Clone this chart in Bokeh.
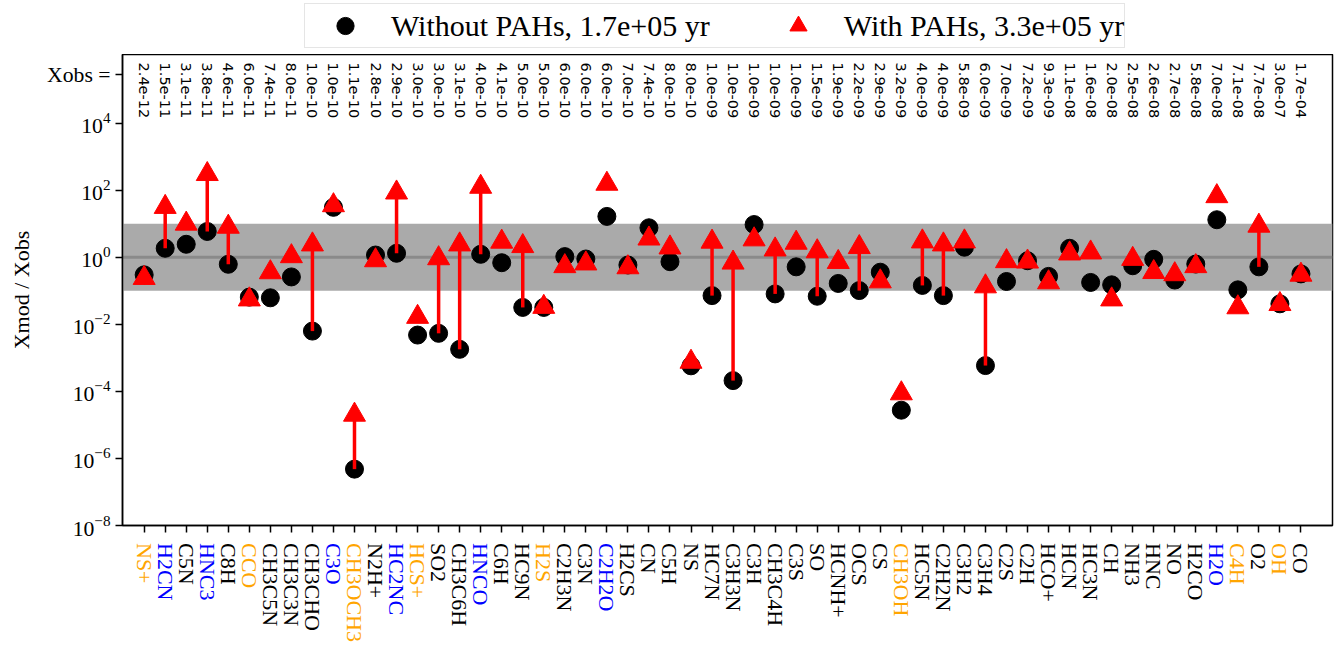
import numpy as np
from bokeh.plotting import figure
from bokeh.models import (ColumnDataSource, Range1d, FixedTicker, BoxAnnotation, Span,
                          Legend, LegendItem, CustomJSTickFormatter)
from bokeh.layouts import column
from bokeh.core.properties import value
from bokeh.embed import file_html
from bokeh.resources import INLINE

# ---------------- data ----------------
species = ["NS+", "H2CN", "C5N", "HNC3", "C8H", "CCO", "CH3C5N", "CH3C3N", "CH3CHO", "C3O",
           "CH3OCH3", "N2H+", "HC2NC", "HCS+", "SO2", "CH3C6H", "HNCO", "C6H", "HC9N", "H2S",
           "C2H3N", "C3N", "C2H2O", "H2CS", "CN", "C5H", "NS", "HC7N", "C3H3N", "C3H",
           "CH3C4H", "C3S", "SO", "HCNH+", "OCS", "CS", "CH3OH", "HC5N", "C2H2N", "C3H2",
           "C3H4", "C2S", "C2H", "HCO+", "HCN", "HC3N", "CH", "NH3", "HNC", "NO",
           "H2CO", "H2O", "C4H", "O2", "OH", "CO"]

x_obs_labels = ["2.4e-12", "1.5e-11", "3.1e-11", "3.8e-11", "4.6e-11", "6.0e-11", "7.4e-11", "8.0e-11",
                "1.0e-10", "1.0e-10", "1.1e-10", "2.8e-10", "2.9e-10", "3.0e-10", "3.0e-10", "3.1e-10",
                "4.0e-10", "4.1e-10", "5.0e-10", "5.0e-10", "6.0e-10", "6.0e-10", "6.0e-10", "7.0e-10",
                "7.4e-10", "8.0e-10", "8.0e-10", "1.0e-09", "1.0e-09", "1.0e-09", "1.0e-09", "1.0e-09",
                "1.5e-09", "1.9e-09", "2.2e-09", "2.9e-09", "3.2e-09", "4.0e-09", "4.0e-09", "5.8e-09",
                "6.0e-09", "7.0e-09", "7.2e-09", "9.3e-09", "1.1e-08", "1.6e-08", "2.0e-08", "2.5e-08",
                "2.6e-08", "2.7e-08", "5.8e-08", "7.0e-08", "7.1e-08", "7.7e-08", "3.0e-07", "1.7e-04"]

# X_mod / X_obs without PAHs (circles)
ratio_without = [0.30, 1.86, 2.45, 5.9, 0.62, 0.065, 0.062, 0.26, 0.0063, 31.0,
                 4.8e-7, 1.17, 1.32, 0.0048, 0.0054, 0.0018, 1.23, 0.69, 0.032, 0.032,
                 1.05, 0.89, 16.6, 0.59, 7.6, 0.74, 5.8e-4, 0.072, 2.1e-4, 9.5,
                 0.081, 0.52, 0.069, 0.166, 0.102, 0.36, 2.75e-5, 0.145, 0.072, 2.0,
                 5.9e-4, 0.19, 0.79, 0.27, 1.86, 0.178, 0.151, 0.56, 0.87, 0.21,
                 0.63, 13.2, 0.107, 0.52, 0.041, 0.32]

# X_mod / X_obs with PAHs (triangles)
ratio_with = [0.24, 31.6, 10.0, 302.0, 8.1, 0.055, 0.355, 1.07, 2.4, 35.5,
              2.0e-5, 0.81, 85.0, 0.0166, 0.93, 2.4, 126.0, 2.9, 2.14, 0.033,
              0.54, 0.65, 155.0, 0.50, 3.6, 1.95, 7.6e-4, 2.9, 0.69, 3.4,
              1.7, 2.7, 1.5, 0.72, 2.0, 0.19, 8.7e-5, 2.95, 2.4, 2.95,
              0.135, 0.76, 0.74, 0.178, 1.29, 1.38, 0.055, 0.89, 0.36, 0.31,
              0.54, 66.0, 0.032, 8.7, 0.040, 0.30]

orange_species = ["NS+", "CCO", "CH3OCH3", "HCS+", "H2S", "CH3OH", "C4H", "OH"]
blue_species = ["H2CN", "HNC3", "C3O", "HC2NC", "HNCO", "C2H2O", "H2O"]

legend_without = "Without PAHs, 1.7e+05 yr"
legend_with = "With PAHs, 3.3e+05 yr"

band_low, band_high = 0.1, 10.0
arrow_factor = 10.0
y_ticks = [1e-8, 1e-6, 1e-4, 1e-2, 1.0, 1e2, 1e4]

n = len(species)
assert len(x_obs_labels) == n and len(ratio_without) == n and len(ratio_with) == n

# ---------------- layout constants ----------------
W = 1339
LEG_H = 54
MAIN_H = 487
BOT_H = 648 - LEG_H - MAIN_H
FL, FR, FB = 122, 7, 16
SERIF = "Liberation Serif"
Y_MIN, Y_MAX = 1e-8, 10 ** 6.05
XOBS_TICK = 10 ** 5.45
XOBS_TEXT_Y = 10 ** 5.81
CIRCLE_SIZE = 18
TRI_SIZE = 22

idx = list(range(n))
src = ColumnDataSource(dict(x=idx, wo=ratio_without, wi=ratio_with))

ax, ay0, ay1 = [], [], []
for i in idx:
    if ratio_with[i] / ratio_without[i] > arrow_factor:
        ax.append(i)
        ay0.append(ratio_without[i])
        ay1.append(ratio_with[i])
arrow_src = ColumnDataSource(dict(x=ax, y0=ay0, y1=ay1))

# ---------------- legend strip ----------------
# legend proxies: the same series, drawn in a strip whose x range shows none of them
p0 = figure(width=W, height=LEG_H, x_range=Range1d(1000, 1001), y_range=Range1d(0, 1),
            output_backend="svg", toolbar_location=None,
            x_axis_location=None, y_axis_location=None,
            min_border_left=FL, min_border_right=FR, min_border_top=0, min_border_bottom=0)
p0.grid.visible = False
p0.outline_line_color = None
p0.background_fill_color = "white"
p0.border_fill_color = "white"
lg_circ = p0.scatter("x", "wo", source=src, marker="circle", size=CIRCLE_SIZE, color="black")
lg_tri = p0.scatter("x", "wi", source=src, marker="triangle", size=TRI_SIZE, color="red")
LEG_LEFT, LEG_BOTTOM_GAP = 304, 6
legend = Legend(items=[LegendItem(label=legend_without, renderers=[lg_circ]),
                       LegendItem(label=legend_with, renderers=[lg_tri])],
                orientation="horizontal", location=(LEG_LEFT - FL, LEG_BOTTOM_GAP),
                label_text_font=SERIF, label_text_font_size="30px", label_text_color="black",
                glyph_width=80, glyph_height=43, label_height=43, label_standoff=6, spacing=48,
                padding=0, margin=0, border_line_color="#cccccc", border_line_width=1.5,
                background_fill_color="white", background_fill_alpha=1.0)
p0.add_layout(legend)

# ---------------- main plot ----------------
xr = Range1d(-1.03, 56.5)
p = figure(width=W, height=MAIN_H, x_range=xr, y_range=Range1d(Y_MIN, Y_MAX),
           y_axis_type="log", output_backend="svg", toolbar_location=None,
           min_border_left=FL, min_border_right=FR, min_border_top=0, min_border_bottom=FB)
p.background_fill_color = "white"
p.border_fill_color = "white"
p.grid.visible = False
p.outline_line_color = "black"
p.outline_line_width = 1.5

p.add_layout(BoxAnnotation(bottom=band_low, top=band_high, fill_color="#aaaaaa", fill_alpha=1.0,
                           line_color=None, level="underlay"))
p.add_layout(Span(location=1.0, dimension="width", line_color="#8a8a8a", line_width=3,
                  level="underlay"))

p.scatter("x", "wo", source=src, marker="circle", size=CIRCLE_SIZE, color="black")
p.segment(x0="x", y0="y0", x1="x", y1="y1", source=arrow_src, line_color="red", line_width=3.5)
p.scatter("x", "wi", source=src, marker="triangle", size=TRI_SIZE, color="red")

p.text(x=idx, y=[XOBS_TEXT_Y] * n, text=x_obs_labels, angle=-np.pi / 2,
       text_align="left", text_baseline="middle", text_font=value("DejaVu Sans"),
       text_font_size="14.5px", text_color="black")

p.xaxis.ticker = FixedTicker(ticks=idx, minor_ticks=[])
p.xaxis.formatter = CustomJSTickFormatter(code="return ''")
p.xaxis.major_label_text_font_size = "1px"
p.xaxis.major_label_standoff = 0
p.xaxis.major_tick_out = 7
p.xaxis.major_tick_in = 0
p.xaxis.major_tick_line_width = 1.5
p.xaxis.axis_line_width = 1.5

p.yaxis.ticker = FixedTicker(ticks=y_ticks + [XOBS_TICK], minor_ticks=[])
p.yaxis.major_label_overrides = {XOBS_TICK: "Xobs ="}
p.yaxis.major_label_text_font = SERIF
p.yaxis.major_label_text_font_size = "21.7px"
p.yaxis.major_label_text_color = "black"
p.yaxis.major_tick_out = 7
p.yaxis.major_tick_in = 0
p.yaxis.major_tick_line_width = 1.5
p.yaxis.axis_line_width = 1.5
p.yaxis.axis_label = "Xmod / Xobs"
p.yaxis.axis_label_text_font = SERIF
p.yaxis.axis_label_text_font_size = "22px"
p.yaxis.axis_label_text_font_style = "normal"
p.yaxis.axis_label_text_color = "black"
p.yaxis.axis_label_standoff = 10

# ---------------- species labels (below the axis) ----------------
label_colors = ["orange" if s in orange_species else ("blue" if s in blue_species else "black")
                for s in species]
p2 = figure(width=W, height=BOT_H, x_range=xr, y_range=Range1d(0, 1),
            output_backend="svg", toolbar_location=None,
            x_axis_location=None, y_axis_location=None,
            min_border_left=FL, min_border_right=FR, min_border_top=0, min_border_bottom=0)
p2.grid.visible = False
p2.outline_line_color = None
p2.background_fill_color = "white"
p2.border_fill_color = "white"
p2.text(x=idx, y=[1 - 1.5 / BOT_H] * n, text=species, text_color=label_colors, angle=-np.pi / 2,
        text_align="left", text_baseline="middle", text_font=value(SERIF),
        text_font_size="22px")

layout = column(p0, p, p2, spacing=0)
open("out.html", "w").write(file_html(layout, INLINE))
